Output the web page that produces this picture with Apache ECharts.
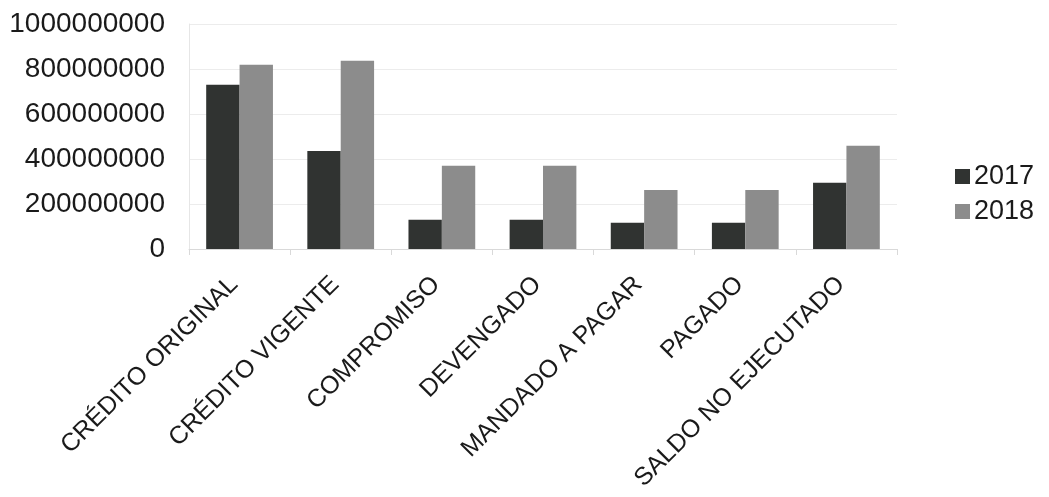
<!DOCTYPE html>
<html>
<head>
<meta charset="utf-8">
<script src="https://cdn.jsdelivr.net/npm/echarts@6/dist/echarts.min.js"></script>
<style>
html,body{margin:0;padding:0;background:#fff;}
#chart{width:1049px;height:497px;}
</style>
</head>
<body>
<div id="chart"></div>
<script>
const categories = ['CRÉDITO ORIGINAL','CRÉDITO VIGENTE','COMPROMISO','DEVENGADO','MANDADO A PAGAR','PAGADO','SALDO NO EJECUTADO'];
const values2017 = [730000000, 436000000, 130000000, 130000000, 117000000, 117000000, 295000000];
const values2018 = [819000000, 837000000, 370000000, 370000000, 262000000, 262000000, 459000000];
const seriesNames = ['2017','2018'];
const yTicks = {min: 0, max: 1000000000, interval: 200000000};

const chart = echarts.init(document.getElementById('chart'));
const font = 'Liberation Sans, Arial, sans-serif';
chart.setOption({
  animation: false,
  backgroundColor: '#ffffff',
  grid: {left: 189, right: 152, top: 24, bottom: 248, containLabel: false},
  legend: {
    orient: 'vertical',
    left: 950,
    top: 158,
    itemWidth: 15,
    itemHeight: 15,
    itemGap: 8,
    icon: 'rect',
    textStyle: {fontSize: 27, fontFamily: font, color: '#1a1a1a', lineHeight: 27, padding: [0,0,0,-1]},
    data: seriesNames
  },
  xAxis: {
    type: 'category',
    data: categories,
    axisLine: {show: true, lineStyle: {color: '#d9d9d9', width: 1}},
    axisTick: {show: true, alignWithLabel: false, length: 6, lineStyle: {color: '#d9d9d9'}},
    axisLabel: {rotate: 45, fontSize: 25, fontFamily: font, color: '#1a1a1a', margin: 26, padding: [0, 8, 0, 0], interval: 0}
  },
  yAxis: {
    type: 'value',
    min: yTicks.min,
    max: yTicks.max,
    interval: yTicks.interval,
    axisLine: {show: true, lineStyle: {color: '#e6e6e6'}},
    axisTick: {show: false},
    splitLine: {show: true, lineStyle: {color: '#ececec', width: 1}},
    axisLabel: {fontSize: 28, fontFamily: font, color: '#1a1a1a', margin: 24, formatter: function (v) { return String(v); }}
  },
  series: [
    {name: seriesNames[0], type: 'bar', data: values2017, barGap: '0%', barCategoryGap: '34%', itemStyle: {color: '#303331'}},
    {name: seriesNames[1], type: 'bar', data: values2018, barGap: '0%', barCategoryGap: '34%', itemStyle: {color: '#8c8c8c'}}
  ]
});
</script>
</body>
</html>
